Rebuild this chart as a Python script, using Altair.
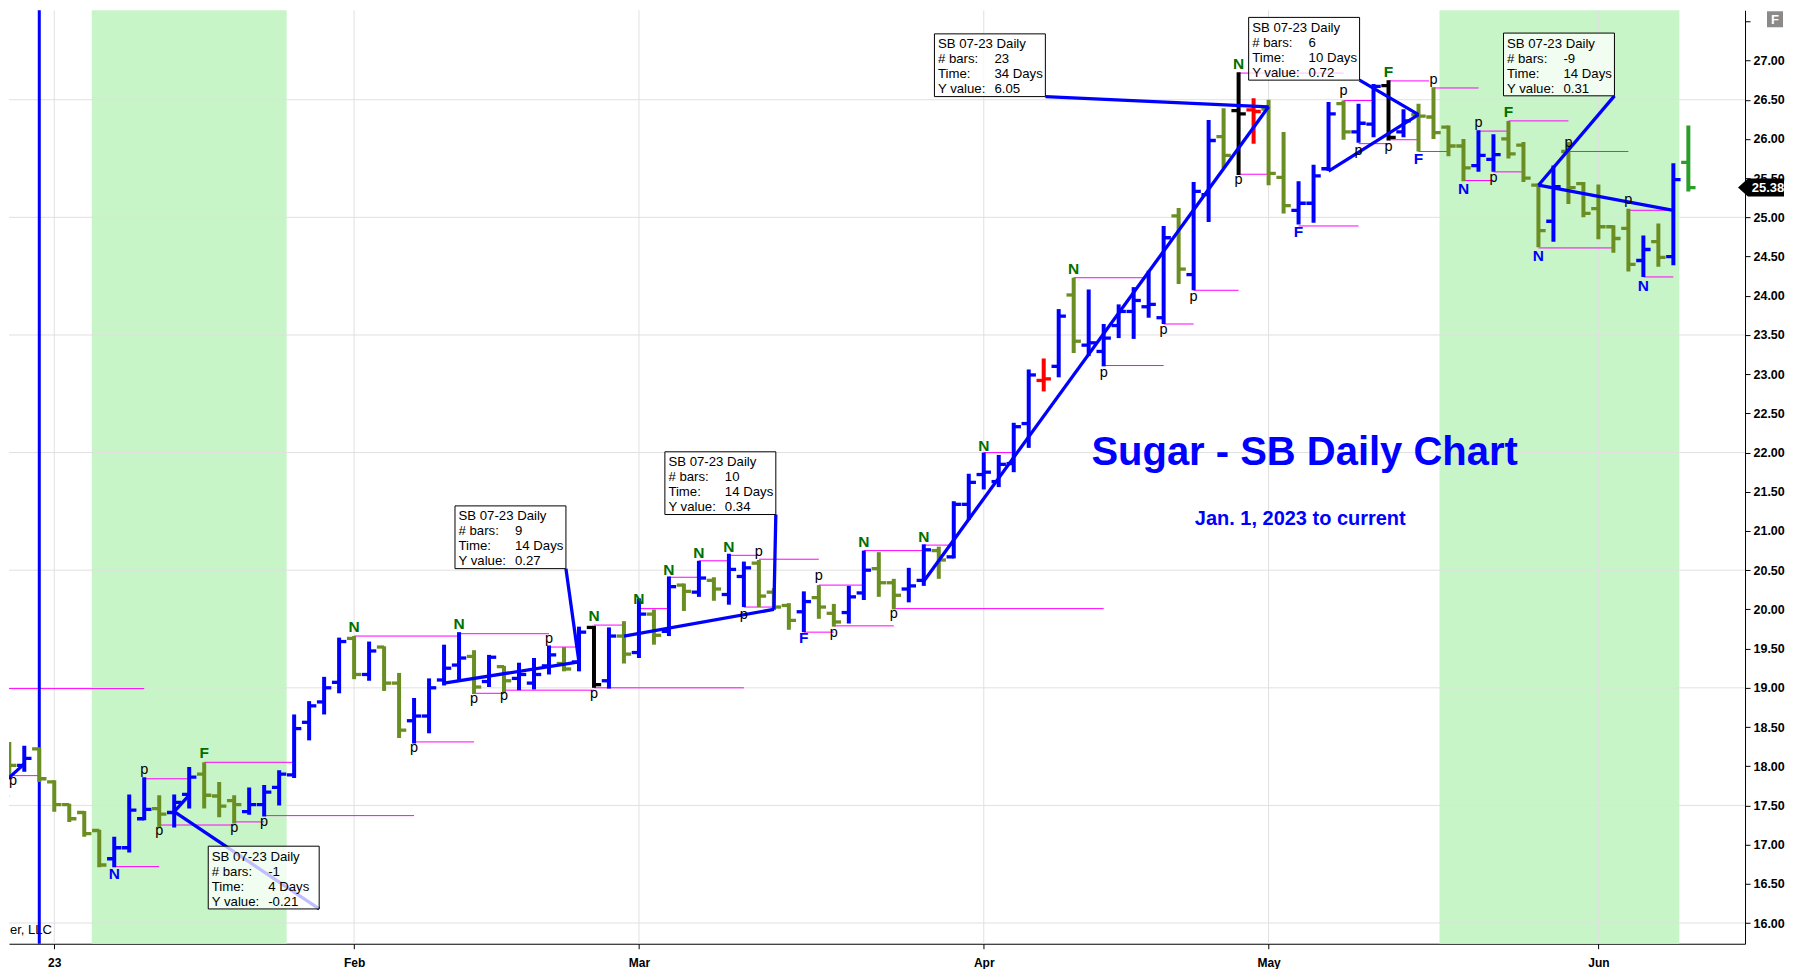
import altair as alt
import pandas as pd

FONT = "Liberation Sans"

# ---------------- data ----------------
# bar index: 0 = first trading day of 2023 (trading-day axis)
bar_idx = list(range(-3, 110))
opens = [18.13, 18.01, 18.22,
         17.80, 17.51, 17.41, 17.18, 16.82, 16.96, 17.33, 17.46, 17.41, 17.64,
         17.90, 17.62, 17.56, 17.42, 17.51, 17.73, 17.89, 18.56, 18.82, 19.07,
         19.63, 19.17, 19.52, 19.06, 18.58, 18.64, 19.10, 19.29, 19.40, 19.08,
         19.27, 19.12, 19.06, 19.28, 19.31, 19.33, 19.77, 19.09, 19.66, 19.45,
         19.94, 19.72, 20.31, 20.22, 20.37, 20.19, 20.42, 20.59, 20.22, 20.05,
         19.97, 20.15, 19.95, 19.96, 20.21, 20.52, 20.34, 20.26, 20.37, 20.75,
         20.67, 21.34, 21.72, 21.63, 21.86, 22.37, 22.92, 23.10, 24.01, 23.37,
         23.29, 23.62, 23.80, 23.86, 23.72, 25.02, 24.27, 25.29, 26.03, 26.36,
         26.37, 26.38, 25.51, 25.09, 25.18, 25.62, 26.45, 26.09, 26.19, 26.68,
         26.09, 26.31, 26.28, 26.15, 25.91, 25.66, 25.74, 26.00, 25.92, 25.41,
         24.95, 25.84, 25.43, 25.11, 24.88, 24.86, 24.45, 24.69, 24.50, 25.70]
highs = [18.31, 18.26, 18.24,
         17.82, 17.52, 17.43, 17.19, 17.10, 17.64, 17.86, 17.63, 17.64, 17.99,
         18.05, 17.80, 17.63, 17.73, 17.76, 17.95, 18.66, 18.83, 19.14, 19.64,
         19.66, 19.59, 19.53, 19.19, 18.87, 19.12, 19.55, 19.71, 19.48, 19.42,
         19.28, 19.32, 19.38, 19.54, 19.52, 19.78, 19.79, 19.77, 19.85, 20.14,
         20.00, 20.42, 20.33, 20.62, 20.41, 20.71, 20.61, 20.63, 20.27, 20.08,
         20.23, 20.31, 20.07, 20.30, 20.75, 20.73, 20.39, 20.53, 20.83, 20.80,
         21.38, 21.73, 22.00, 21.97, 22.38, 23.06, 23.20, 23.83, 24.23, 24.08,
         23.64, 23.89, 24.11, 24.32, 24.89, 25.12, 25.45, 26.24, 26.39, 26.85,
         26.52, 26.50, 26.09, 25.46, 25.67, 26.47, 26.49, 26.45, 26.70, 26.75,
         26.38, 26.45, 26.66, 26.17, 26.00, 26.11, 26.06, 26.23, 25.96, 25.43,
         25.66, 25.96, 25.45, 25.42, 24.90, 25.11, 24.77, 24.92, 25.69, 26.17]
lows = [17.87, 17.93, 17.80,
        17.42, 17.29, 17.10, 16.71, 16.71, 16.90, 17.31, 17.22, 17.22, 17.46,
        17.46, 17.35, 17.27, 17.38, 17.36, 17.50, 17.85, 18.33, 18.66, 18.93,
        19.11, 19.09, 18.96, 18.36, 18.29, 18.42, 19.03, 19.10, 18.92, 19.01,
        18.93, 18.97, 18.98, 19.17, 19.21, 19.21, 19.00, 18.99, 19.31, 19.38,
        19.55, 19.66, 19.98, 20.16, 20.11, 20.06, 20.03, 20.03, 19.99, 19.74,
        19.71, 19.88, 19.78, 19.82, 20.12, 20.16, 20.00, 20.09, 20.30, 20.39,
        20.65, 21.14, 21.53, 21.56, 21.75, 22.06, 22.78, 22.96, 23.27, 23.23,
        23.10, 23.46, 23.45, 23.72, 23.64, 24.15, 24.07, 24.94, 25.63, 25.54,
        25.94, 25.41, 25.05, 24.91, 24.93, 25.59, 25.99, 25.95, 26.02, 25.98,
        26.02, 25.84, 26.00, 25.78, 25.46, 25.58, 25.58, 25.75, 25.45, 24.62,
        24.69, 25.17, 25.00, 24.72, 24.55, 24.31, 24.24, 24.37, 24.39, 25.33]
closes = [18.01, 18.10, 17.84,
          17.51, 17.33, 17.14, 16.74, 16.96, 17.44, 17.45, 17.39, 17.54, 17.86,
          17.63, 17.49, 17.51, 17.51, 17.67, 17.90, 18.48, 18.77, 19.00, 19.59,
          19.17, 19.47, 19.06, 18.46, 18.64, 19.00, 19.25, 19.38, 19.01, 19.39,
          19.09, 19.17, 19.17, 19.42, 19.24, 19.71, 19.04, 19.66, 19.43, 19.94,
          19.67, 20.29, 20.23, 20.40, 20.26, 20.51, 20.53, 20.17, 20.03, 19.86,
          20.10, 20.03, 19.84, 20.16, 20.50, 20.34, 20.18, 20.30, 20.76, 20.63,
          21.34, 21.62, 21.75, 21.85, 22.33, 22.99, 22.94, 23.74, 23.42, 23.40,
          23.46, 23.80, 23.94, 23.89, 24.74, 24.34, 25.33, 25.98, 25.79, 26.32,
          26.35, 25.56, 25.15, 25.18, 25.53, 26.32, 26.09, 26.20, 26.67, 26.02,
          26.23, 26.29, 26.08, 25.91, 25.63, 25.79, 25.80, 25.81, 25.50, 24.83,
          25.39, 25.38, 25.05, 24.88, 24.73, 24.40, 24.59, 24.49, 25.48, 25.38]
special_bars = {36: "black", 66: "red", 79: "black", 80: "red", 89: "black", 109: "last"}

month_idx = [0, 20, 39, 62, 81, 103]
month_lbl = ["23", "Feb", "Mar", "Apr", "May", "Jun"]
grid_prices = [16.0, 17.5, 19.0, 20.5, 22.0, 23.5, 25.0, 26.5]
price_ticks = [16.0, 16.5, 17.0, 17.5, 18.0, 18.5, 19.0, 19.5, 20.0, 20.5, 21.0, 21.5,
               22.0, 22.5, 23.0, 23.5, 24.0, 24.5, 25.0, 25.5, 26.0, 26.5, 27.0, 27.5]

shade_start = [2.5, 92.4]
shade_end = [15.5, 108.4]
marker_idx = [-1]

piv_start = [-4, -4, -3, 4, 6, 7, 10, 12, 14, 20, 24, 27, 28, 30, 33, 36, 36, 39, 41, 43,
             45, 46, 47, 50, 51, 52, 54, 56, 58, 62, 68, 70, 74, 76, 79, 79, 83, 86, 87, 89,
             89, 91, 92, 94, 95, 96, 97, 99, 101, 105, 106]
piv_end = [6, -3, -1, 7, 9, 12, 16, 14, 24, 27, 28, 33, 30, 36, 35, 38, 46, 41, 43, 45,
           47, 48, 51, 52, 54, 56, 58, 70, 60, 64, 73, 74, 76, 79, 86, 81, 87, 88, 89, 91.7,
           91, 93, 95, 96, 97, 98, 101, 104, 105, 108, 108]
piv_price = [18.99, 17.62, 17.88, 16.72, 17.84, 17.25, 18.05, 17.29, 17.37, 19.66,
             18.31, 19.69, 18.93, 18.97, 19.52, 19.80, 19.00, 20.01, 20.41, 20.62,
             20.69, 20.03, 20.64, 19.71, 20.31, 19.79, 20.75, 20.01, 20.82, 22.00,
             24.23, 23.11, 23.64, 24.07, 26.84, 25.55, 24.89, 26.49, 25.94, 26.74,
             25.99, 25.84, 26.65, 25.47, 26.10, 25.58, 26.23, 24.61, 25.84, 25.09, 24.24]

nf_idx = [4, 10, 20, 27, 36, 39, 41, 43, 45, 50, 54, 58, 62, 68, 79, 83, 89, 91, 94, 97, 99, 106]
nf_price = [16.63, 18.17, 19.77, 19.81, 19.91, 20.13, 20.50, 20.72, 20.80, 19.63,
            20.86, 20.92, 22.09, 24.34, 26.96, 24.81, 26.85, 25.75, 25.36, 26.34, 24.51, 24.13]
nf_text = ["N", "F", "N", "N", "N", "N", "N", "N", "N", "F",
           "N", "N", "N", "N", "N", "F", "F", "F", "N", "F", "N", "N"]
nf_side = ["low", "high", "high", "high", "high", "high", "high", "high", "high", "low",
           "high", "high", "high", "high", "high", "low", "high", "low", "low", "high", "low", "low"]

p_idx = [-2.75, 6, 7, 12, 14, 24, 28, 30, 33, 36, 46, 47, 51, 52, 56, 70, 74, 76, 79, 86,
         87, 89, 92, 95, 96, 101, 105]
p_price = [17.79, 17.93, 17.15, 17.19, 17.26, 18.21, 18.83, 18.87, 19.60, 18.89,
           19.90, 20.71, 20.40, 19.67, 19.91, 22.99, 23.54, 23.96, 25.45, 26.58,
           25.82, 25.87, 26.72, 26.18, 25.47, 25.92, 25.19]

t_i1 = [-5, 9, 26, 38, 58, 85, 108]
t_p1 = [17.51, 17.63, 19.06, 19.66, 20.36, 25.59, 25.09]
t_i2 = [-2, 8, 35, 48, 81, 91, 99]
t_p2 = [18.03, 17.42, 19.33, 20.00, 26.41, 26.31, 25.41]

box_left = [10.27, 26.73, 40.73, 58.71, 79.67, 96.67]
box_top = [16.98, 21.32, 22.01, 27.34, 27.55, 27.35]
box_bars = ["-1", "9", "10", "23", "6", "-9"]
box_time = ["4 Days", "14 Days", "14 Days", "34 Days", "10 Days", "14 Days"]
box_yval = ["-0.21", "0.27", "0.34", "6.05", "0.72", "0.31"]
box_trend = [1, 2, 3, 4, 5, 6]

title_text = "Sugar - SB Daily Chart"
subtitle_text = "Jan. 1, 2023 to current"
credit_text = "er, LLC"

# ---------------- layout ----------------
W, H = 1737, 934
BOX_W, BOX_H = 7.4, 0.80
TICK = 0.48
BLUE, OLIVE, GREEN_TXT = "#0000ff", "#6b8e23", "#007000"

xs = alt.Scale(domain=[-3.02, 112.78], nice=False, zero=False)
ys = alt.Scale(domain=[15.736, 27.641], nice=False, zero=False)

lab_expr = ""
for v, t in zip(month_idx, month_lbl):
    lab_expr += f"datum.value == {v} ? '{t}' : "
lab_expr += "''"

xa = alt.Axis(values=month_idx, labelExpr=lab_expr, title=None, grid=False, tickSize=5,
              tickColor="black", domainColor="black", labelFont=FONT, labelFontSize=12,
              labelFontWeight="bold", labelColor="black", labelPadding=9, labelFlush=False,
              labelOverlap=False)
ya = alt.Axis(orient="right", values=price_ticks,
              labelExpr="datum.value >= 27.5 ? '' : format(datum.value, '.2f')",
              title=None, grid=False, tickSize=5, tickColor="black", domainColor="black",
              labelFont=FONT, labelFontSize=12.5, labelFontWeight="bold", labelColor="black",
              labelPadding=3, labelOverlap=False, labelFlush=False)


def X(f):
    return alt.X(f, type="quantitative", scale=xs, axis=xa)


def Y(f):
    return alt.Y(f, type="quantitative", scale=ys, axis=ya)


bars = pd.DataFrame({"i": bar_idx, "o": opens, "h": highs, "l": lows, "c": closes})
bars["kind"] = [special_bars.get(i, "up" if c >= o else "down")
                for i, o, c in zip(bar_idx, opens, closes)]
bar_col_expr = ("datum.kind == 'up' ? '%s' : datum.kind == 'down' ? '%s' : "
                "datum.kind == 'black' ? '#000000' : datum.kind == 'red' ? '#ff0000' : '#2a9d2a'"
                % (BLUE, OLIVE))
bar_color = alt.Color("col:N", scale=None)

shade = alt.Chart(pd.DataFrame({"s": shade_start, "e": shade_end})).mark_rect(
    color="#c8f5c8").encode(x=X("s"), x2="e", y=alt.value(0), y2=alt.value(H))
hgrid = alt.Chart(pd.DataFrame({"p": grid_prices})).mark_rule(
    color="#e0e0e0", strokeWidth=1).encode(y=Y("p"), x=alt.value(0), x2=alt.value(W))
vgrid = alt.Chart(pd.DataFrame({"m": month_idx})).mark_rule(
    color="#e0e0e0", strokeWidth=1).encode(x=X("m"), y=alt.value(0), y2=alt.value(H))
pivots = alt.Chart(pd.DataFrame({"s": piv_start, "e": piv_end, "p": piv_price})).mark_rule(
    color="#ff00ff", strokeWidth=1, clip=True).encode(x=X("s"), x2="e", y=Y("p"))
marker = alt.Chart(pd.DataFrame({"i": marker_idx})).mark_rule(
    color=BLUE, strokeWidth=3).encode(x=X("i"), y=alt.value(0), y2=alt.value(H))

bb = alt.Chart(bars).transform_calculate(col=bar_col_expr)
hl = bb.mark_rule(strokeWidth=4, clip=True).encode(x=X("i"), y=Y("l"), y2="h", color=bar_color)
op = bb.transform_calculate(xl=f"datum.i - {TICK}").mark_rule(strokeWidth=3.3, clip=True).encode(
    x=X("xl"), x2="i", y=Y("o"), color=bar_color)
cl = bb.transform_calculate(xr=f"datum.i + {TICK}").mark_rule(strokeWidth=3.3, clip=True).encode(
    x=X("i"), x2="xr", y=Y("c"), color=bar_color)

trend_df = pd.DataFrame({"x1": t_i1, "y1": t_p1, "x2": t_i2, "y2": t_p2})
trend = alt.Chart(trend_df).mark_rule(color=BLUE, strokeWidth=3.3, clip=True).encode(
    x=X("x1"), y=Y("y1"), x2="x2", y2="y2")

lead_df = pd.DataFrame({
    "x1": [t_i2[k] for k in box_trend],
    "y1": [t_p2[k] for k in box_trend],
    "x2": [l + BOX_W for l in box_left],
    "y2": [t - BOX_H for t in box_top],
})
leaders = alt.Chart(lead_df).mark_rule(color=BLUE, strokeWidth=3.3).encode(
    x=X("x1"), y=Y("y1"), x2="x2", y2="y2")

boxes = pd.DataFrame({"left": box_left, "top": box_top, "bars": box_bars,
                      "time": box_time, "yv": box_yval})
box_rect = alt.Chart(boxes).transform_calculate(
    right=f"datum.left + {BOX_W}", bottom=f"datum.top - {BOX_H}"
).mark_rect(fill="white", fillOpacity=0.75, stroke="black", strokeWidth=1).encode(
    x=X("left"), x2="right", y=Y("top"), y2="bottom")
box_lab = alt.Chart(boxes).transform_calculate(
    txt="split('SB 07-23 Daily|# bars:|Time:|Y value:', '|')"
).mark_text(align="left", baseline="top", dx=3.5, dy=4.5, fontSize=13.2, lineHeight=15,
            font=FONT, color="black").encode(x=X("left"), y=Y("top"), text="txt:N")
box_val = alt.Chart(boxes).transform_calculate(
    txt="split('|' + datum.bars + '|' + datum.time + '|' + datum.yv, '|')"
).mark_text(align="left", baseline="top", dx=60, dy=4.5, fontSize=13.2, lineHeight=15,
            font=FONT, color="black").encode(x=X("left"), y=Y("top"), text="txt:N")

nf = alt.Chart(pd.DataFrame({"i": nf_idx, "p": nf_price, "t": nf_text, "side": nf_side})
               ).transform_calculate(
    col=f"datum.side == 'high' ? '{GREEN_TXT}' : '{BLUE}'"
).mark_text(fontSize=15.5, fontWeight="bold", font=FONT, align="center", baseline="middle").encode(
    x=X("i"), y=Y("p"), text="t:N", color=alt.Color("col:N", scale=None))
pl = alt.Chart(pd.DataFrame({"i": p_idx, "p": p_price})).mark_text(
    text="p", fontSize=14.5, font=FONT, align="center", baseline="middle", dy=-2,
    color="black").encode(x=X("i"), y=Y("p"))

title = alt.Chart(pd.DataFrame({"t": [title_text]})).mark_text(
    fontSize=40, fontWeight="bold", font=FONT, color=BLUE, align="left",
    baseline="alphabetic").encode(x=alt.value(1083), y=alt.value(455), text="t:N")
subtitle = alt.Chart(pd.DataFrame({"t": [subtitle_text]})).mark_text(
    fontSize=20, fontWeight="bold", font=FONT, color=BLUE, align="center",
    baseline="alphabetic").encode(x=alt.value(1292), y=alt.value(515), text="t:N")
credit = alt.Chart(pd.DataFrame({"t": [credit_text]})).mark_text(
    fontSize=13, font=FONT, color="black", align="left", baseline="middle").encode(
    x=alt.value(1), y=alt.value(920), text="t:N")

tag_df = pd.DataFrame({"p": [closes[-1]], "t": [f"{closes[-1]:.2f}"]})
tag = alt.Chart(tag_df).mark_point(
    shape="M-1,0L-0.57,-0.39L1,-0.39L1,0.39L-0.57,0.39Z", size=2116, filled=True,
    color="black", opacity=1).encode(x=alt.value(1753), y=Y("p"))
tag_txt = alt.Chart(tag_df).mark_text(
    color="white", fontWeight="bold", fontSize=13, font=FONT, align="center",
    baseline="middle").encode(x=alt.value(1760), y=Y("p"), text="t:N")

btn_df = pd.DataFrame({"t": ["F"]})
btn = alt.Chart(btn_df).mark_point(shape="square", size=256, filled=True, color="#8a8a8a",
                                   opacity=1).encode(x=alt.value(1767), y=alt.value(9))
btn_txt = alt.Chart(btn_df).mark_text(color="white", fontWeight="bold", fontSize=13, font=FONT,
                                      align="center", baseline="middle").encode(
    x=alt.value(1767), y=alt.value(9.5), text="t:N")

chart = alt.layer(
    shade, hgrid, vgrid, pivots, marker, hl, op, cl, trend, leaders,
    box_rect, box_lab, box_val, nf, pl, title, subtitle, credit, tag, tag_txt, btn, btn_txt
).properties(width=W, height=H, padding=0).configure_view(strokeWidth=0)

chart.save("out.html", embed_options={"renderer": "svg", "actions": False})
